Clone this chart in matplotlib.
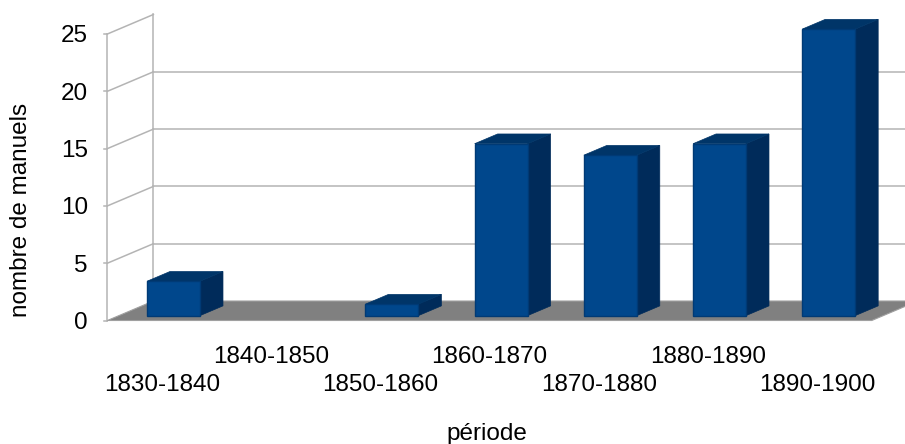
import matplotlib
matplotlib.use("Agg")
import matplotlib.pyplot as plt
from matplotlib.patches import Polygon

plt.rcParams['font.family'] = ['Liberation Sans', 'DejaVu Sans']

categories = ["1830-1840", "1840-1850", "1850-1860", "1860-1870",
              "1870-1880", "1880-1890", "1890-1900"]
values = [3, 0, 1, 15, 14, 15, 25]
yticks = [0, 5, 10, 15, 20, 25]
ylabel = "nombre de manuels"
xlabel = "période"

W, H = 905, 444
fig = plt.figure(figsize=(W / 100, H / 100), dpi=100)
left_px, right_px = 107.4, 871.8
bot_px, top_px = 123.5, 410.0
ax = fig.add_axes([left_px / W, bot_px / H, (right_px - left_px) / W, (top_px - bot_px) / H])
ax.set_xlim(-0.5, 6.5)
ax.set_ylim(0, 25)

# depth shear (full depth = 46 px right, 19.5 px up) in data units
DXD = 46.0 / ((right_px - left_px) / 7.0)
DYD = 19.5 / ((top_px - bot_px) / 25.0)

def P(x, v, d):
    return (x + d * DXD, v + d * DYD)

grid_c = '#b4b4b4'
kw = dict(color=grid_c, lw=1.1, clip_on=False, zorder=1)

# floor
floor = Polygon([P(-0.5, 0, 0), P(6.5, 0, 0), P(6.5, 0, 1), P(-0.5, 0, 1)],
                closed=True, facecolor='#808080', edgecolor='#a0a0a0', lw=0.8,
                clip_on=False, zorder=2)
ax.add_patch(floor)

# left wall edges and gridlines
for d in (0, 1):
    a, b = P(-0.5, 0, d), P(-0.5, 25, d)
    ax.plot([a[0], b[0]], [a[1], b[1]], **kw)
for v in yticks[1:]:
    a, b = P(-0.5, v, 0), P(-0.5, v, 1)
    ax.plot([a[0], b[0]], [a[1], b[1]], **kw)
    if v < 25:
        c = P(7.5, v, 1)
        ax.plot([b[0], c[0]], [b[1], c[1]], **kw)
# small ticks on front-left edge
for v in yticks:
    a = P(-0.5, v, 0)
    ax.plot([a[0] - 0.03, a[0]], [a[1], a[1]], **kw)

# bars
bw = 0.485
front_c, side_c, top_c = '#00478c', '#002b5a', '#003568'
d0, d1 = 0.25, 0.75
for i, v in enumerate(values):
    if v <= 0:
        continue
    xl, xr = i - bw / 2, i + bw / 2
    side = Polygon([P(xr, 0, d0), P(xr, 0, d1), P(xr, v, d1), P(xr, v, d0)],
                   closed=True, facecolor=side_c, edgecolor=side_c, lw=0.5,
                   clip_on=False, zorder=3)
    top = Polygon([P(xl, v, d0), P(xr, v, d0), P(xr, v, d1), P(xl, v, d1)],
                  closed=True, facecolor=top_c, edgecolor=top_c, lw=0.5,
                  clip_on=False, zorder=3)
    front = Polygon([P(xl, 0, d0), P(xr, 0, d0), P(xr, v, d0), P(xl, v, d0)],
                    closed=True, facecolor=front_c, edgecolor='#003a75', lw=1.0,
                    clip_on=False, zorder=4)
    for p in (side, top, front):
        ax.add_patch(p)

for s in ax.spines.values():
    s.set_visible(False)
ax.set_facecolor('none')
ax.set_yticks(yticks)
ax.set_yticklabels([str(t) for t in yticks], fontsize=17.5)
ax.tick_params(axis='y', length=0, pad=14)
ax.set_xticks(range(len(categories)))
ax.set_xticklabels([("\n" + c) if i % 2 == 0 else c for i, c in enumerate(categories)],
                   fontsize=17.5, linespacing=1.4)
ax.tick_params(axis='x', length=0, pad=18)

fig.text(21 / W, 1 - 210 / H, ylabel, rotation=90, ha='center', va='center', fontsize=17.5)
fig.text(487 / W, 1 - 434 / H, xlabel, ha='center', va='center', fontsize=17.5)

fig.savefig("out.png", dpi=100)
